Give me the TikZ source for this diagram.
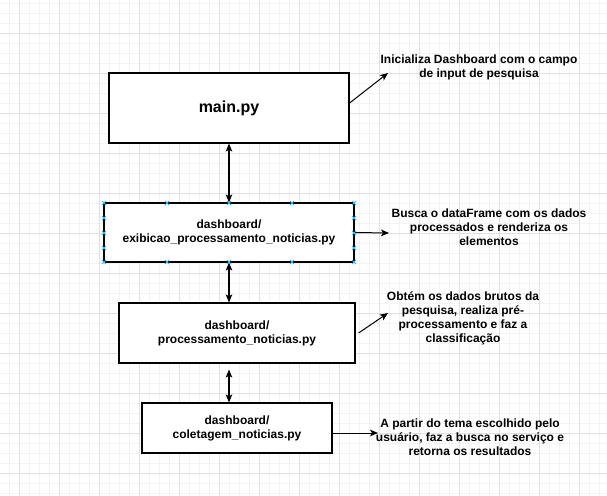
\documentclass[tikz,border=0pt]{standalone}
\usepackage{fontspec}
\setmainfont{Liberation Sans}
\usetikzlibrary{arrows.meta,calc}
\definecolor{gridminor}{HTML}{F3F3F3}
\definecolor{gridmajor}{HTML}{E0E0E0}
\definecolor{selblue}{HTML}{29B6F2}
\tikzset{
  box/.style={draw=black,line width=0.9pt,fill=white,align=center,inner sep=0pt,
    font=\fontsize{9}{10.5}\selectfont\bfseries},
  note/.style={align=center,inner sep=0pt,font=\fontsize{9}{10.5}\selectfont\bfseries},
  dbl/.style={line width=0.9pt,{Stealth[length=6pt,width=5pt,inset=1.5pt]}-{Stealth[length=6pt,width=5pt,inset=1.5pt]}},
  sgl/.style={line width=0.75pt,-{Stealth[length=6pt,width=5pt,inset=1.5pt]}},
  selmark/.style={selblue,line width=0.6pt}
}
\begin{document}
\begin{tikzpicture}[x=0.75pt,y=-0.75pt]
\useasboundingbox (0,0) rectangle (607,496);
\fill[white] (0,0) rectangle (607,496);
% grid
\foreach \gx in {9.5,19.5,...,609.5} \draw[gridminor,line width=0.6pt] (\gx,0) -- (\gx,496);
\foreach \gy in {3,13,...,493} \draw[gridminor,line width=0.6pt] (0,\gy) -- (607,\gy);
\foreach \gx in {19.5,59.5,...,599.5} \draw[gridmajor,line width=0.6pt] (\gx,0) -- (\gx,496);
\foreach \gy in {33,73,...,473} \draw[gridmajor,line width=0.6pt] (0,\gy) -- (607,\gy);

% boxes
\node[box,minimum width=180pt,minimum height=52.5pt,font=\fontsize{12}{14}\selectfont\bfseries] (main) at (229,108) {main.py};
\node[box,minimum width=187.5pt,minimum height=44.25pt] (exib) at (229,232.5) {dashboard/\\exibicao\_processamento\_noticias.py};
\node[box,minimum width=177pt,minimum height=45pt] (proc) at (237,333) {dashboard/\\processamento\_noticias.py};
\node[box,minimum width=142.5pt,minimum height=37.5pt] (colet) at (237,428) {dashboard/\\coletagem\_noticias.py};

% notes
\node[note] (t1) at (479,67) {Inicializa Dashboard com o campo\\de input de pesquisa};
\node[note] (t2) at (489,227) {Busca o dataFrame com os dados\\processados e renderiza os\\elementos};
\node[note] (t3) at (463,318) {Obtém os dados brutos da\\pesquisa, realiza pré-\\processamento e faz a\\classificação};
\node[note] (t4) at (470,437) {A partir do tema escolhido pelo\\usuário, faz a busca no serviço e\\retorna os resultados};

% anchor coordinates
\coordinate (ax) at (229,0);
\coordinate (c1) at (388,73);
\coordinate (c2) at (389,233);
\coordinate (c3) at (388,313);
\coordinate (c4) at (378,433);

% vertical connectors
\draw[dbl] (main.south -| ax) -- (exib.north -| ax);
\draw[dbl] (exib.south -| ax) -- (proc.north -| ax);
\draw[dbl] ($(proc.south -| ax)+(0,6)$) -- (colet.north -| ax);

% side connectors
\draw[sgl] ($(main.east)+(0,-5)$) -- (c1);
\draw[sgl] (exib.east) -- (c2);
\draw[sgl] ($(proc.east)+(3,0)$) -- (c3);
\draw[sgl] ($(colet.east)+(-2,5)$) -- (c4);

% selection markers on exib
\foreach \mx in {104,167,229,292,354} {
  \draw[selmark] (\mx-2,201) -- (\mx+2,205) (\mx-2,205) -- (\mx+2,201);
  \draw[selmark] (\mx-2,260) -- (\mx+2,264) (\mx-2,264) -- (\mx+2,260);
}
\foreach \my in {218,233,248} {
  \draw[selmark] (102,\my-2) -- (106,\my+2) (102,\my+2) -- (106,\my-2);
  \draw[selmark] (352,\my-2) -- (356,\my+2) (352,\my+2) -- (356,\my-2);
}
\end{tikzpicture}
\end{document}
